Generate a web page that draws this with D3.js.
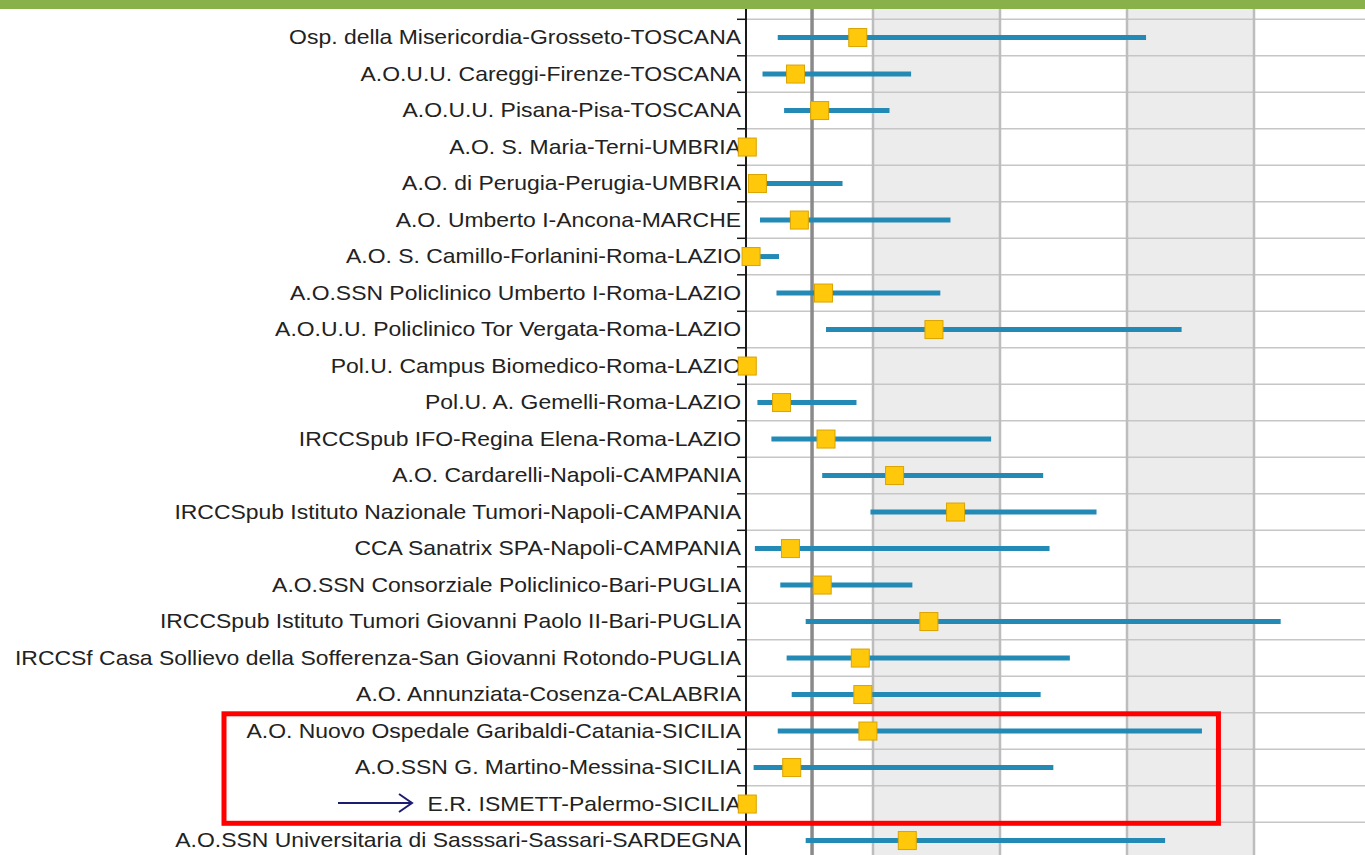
<!DOCTYPE html>
<html>
<head>
<meta charset="utf-8">
<script src="https://cdn.jsdelivr.net/npm/d3@7"></script>
<style>
  html, body { margin: 0; padding: 0; background: #fff; overflow: hidden; }
  svg { display: block; }
</style>
</head>
<body>
<svg id="chart" width="1365" height="855"></svg>
<script>
// hospitals, top to bottom
const hospitals = [
    'Osp. della Misericordia-Grosseto-TOSCANA',
    'A.O.U.U. Careggi-Firenze-TOSCANA',
    'A.O.U.U. Pisana-Pisa-TOSCANA',
    'A.O. S. Maria-Terni-UMBRIA',
    'A.O. di Perugia-Perugia-UMBRIA',
    'A.O. Umberto I-Ancona-MARCHE',
    'A.O. S. Camillo-Forlanini-Roma-LAZIO',
    'A.O.SSN Policlinico Umberto I-Roma-LAZIO',
    'A.O.U.U. Policlinico Tor Vergata-Roma-LAZIO',
    'Pol.U. Campus Biomedico-Roma-LAZIO',
    'Pol.U. A. Gemelli-Roma-LAZIO',
    'IRCCSpub IFO-Regina Elena-Roma-LAZIO',
    'A.O. Cardarelli-Napoli-CAMPANIA',
    'IRCCSpub Istituto Nazionale Tumori-Napoli-CAMPANIA',
    'CCA Sanatrix SPA-Napoli-CAMPANIA',
    'A.O.SSN Consorziale Policlinico-Bari-PUGLIA',
    'IRCCSpub Istituto Tumori Giovanni Paolo II-Bari-PUGLIA',
    'IRCCSf Casa Sollievo della Sofferenza-San Giovanni Rotondo-PUGLIA',
    'A.O. Annunziata-Cosenza-CALABRIA',
    'A.O. Nuovo Ospedale Garibaldi-Catania-SICILIA',
    'A.O.SSN G. Martino-Messina-SICILIA',
    'E.R. ISMETT-Palermo-SICILIA',
    'A.O.SSN Universitaria di Sasssari-Sassari-SARDEGNA'
];

// estimate, lower and upper limit
const estimate = [0.88, 0.39, 0.58, 0.01, 0.09, 0.42, 0.04, 0.61, 1.48, 0.01, 0.28, 0.63,
    1.17, 1.65, 0.35, 0.60, 1.44, 0.90, 0.92, 0.96, 0.36, 0.01, 1.27];
const lower = [0.25, 0.13, 0.30, 0.01, 0.09, 0.11, 0.04, 0.24, 0.63, 0.01, 0.09, 0.20,
    0.60, 0.98, 0.07, 0.27, 0.47, 0.32, 0.36, 0.25, 0.06, 0.01, 0.47];
const upper = [3.15, 1.30, 1.13, 0.01, 0.76, 1.61, 0.26, 1.53, 3.43, 0.01, 0.87, 1.93,
    2.34, 2.76, 2.39, 1.31, 4.21, 2.55, 2.32, 3.59, 2.42, 0.01, 3.30];

const gridTicks = [0, 1, 2, 3, 4, 5];
const bands = [[1, 2], [3, 4]];
const reference = 0.52;
const highlighted = ['A.O. Nuovo Ospedale Garibaldi-Catania-SICILIA',
    'A.O.SSN G. Martino-Messina-SICILIA',
    'E.R. ISMETT-Palermo-SICILIA'];
const pointed = 'E.R. ISMETT-Palermo-SICILIA';

const rows = hospitals.map((h, i) => ({
    name: h, est: estimate[i], lo: lower[i], hi: upper[i]
}));

const svg = d3.select('#chart');
const W = 1365;

const x = d3.scaleLinear()
    .domain([0, 5])
    .range([746, 1381]);

const y = d3.scaleBand()
    .domain(hospitals)
    .range([19.3, 19.3 + hospitals.length * 36.5]);

const bw = y.bandwidth();
const cy = d => y(d) + bw / 2;

// top banner
svg.append('rect')
    .attr('x', 0).attr('y', 0)
    .attr('width', W).attr('height', 9)
    .attr('fill', '#89b14a');

// shaded bands
svg.selectAll('.band')
    .data(bands).enter()
    .append('rect')
        .attr('x', d => x(d[0]))
        .attr('y', 9)
        .attr('width', d => x(d[1]) - x(d[0]))
        .attr('height', 855)
        .attr('fill', '#ececec');

// horizontal row lines
const bounds = hospitals.map(h => y(h)).concat([y(hospitals[hospitals.length - 1]) + bw]);
svg.selectAll('.hgrid')
    .data(bounds).enter()
    .append('line')
        .attr('x1', x(0)).attr('x2', W)
        .attr('y1', d => d).attr('y2', d => d)
        .attr('stroke', '#c6c6c6')
        .attr('stroke-width', 1.5);

// vertical grid
svg.selectAll('.vgrid')
    .data(gridTicks.slice(1)).enter()
    .append('line')
        .attr('x1', d => x(d)).attr('x2', d => x(d))
        .attr('y1', 9).attr('y2', 855)
        .attr('stroke', '#bdbdbd')
        .attr('stroke-width', 2.5);

// reference line
svg.append('line')
    .attr('x1', x(reference)).attr('x2', x(reference))
    .attr('y1', 9).attr('y2', 855)
    .attr('stroke', '#8a8a8a')
    .attr('stroke-width', 3.5);

// axis with labels
const axis = svg.append('g')
    .attr('transform', 'translate(' + x(0) + ',0)')
    .call(d3.axisLeft(y).tickSize(0).tickPadding(5));
axis.select('.domain').remove();
axis.append('line')
    .attr('x1', 0).attr('x2', 0)
    .attr('y1', 9).attr('y2', 855)
    .attr('stroke', '#1a1a1a')
    .attr('stroke-width', 2);
axis.selectAll('.rowtick')
    .data(bounds).enter()
    .append('line')
        .attr('x1', -9).attr('x2', 0)
        .attr('y1', d => d).attr('y2', d => d)
        .attr('stroke', '#1a1a1a')
        .attr('stroke-width', 1.5);

const labels = axis.selectAll('.tick text')
    .attr('fill', '#222')
    .style('font-family', '"Liberation Sans", Arial, sans-serif')
    .style('font-size', '21px');

// squeeze labels a little so the longest keeps the width it has in the picture
let widest = 0;
labels.each(function() { widest = Math.max(widest, this.getComputedTextLength()); });
const squeeze = 726 / widest;
labels.each(function() {
    const len = this.getComputedTextLength();
    d3.select(this)
        .attr('textLength', (len * squeeze).toFixed(1))
        .attr('lengthAdjust', 'spacingAndGlyphs');
});

// intervals
svg.selectAll('.ci')
    .data(rows.filter(d => d.hi > d.lo)).enter()
    .append('line')
        .attr('x1', d => x(d.lo)).attr('x2', d => x(d.hi))
        .attr('y1', d => cy(d.name)).attr('y2', d => cy(d.name))
        .attr('stroke', '#2389b5')
        .attr('stroke-width', 5);

// estimates
const sq = 18;
svg.selectAll('.est')
    .data(rows).enter()
    .append('rect')
        .attr('x', d => x(d.est) - sq / 2)
        .attr('y', d => cy(d.name) - sq / 2)
        .attr('width', sq).attr('height', sq)
        .attr('fill', '#ffc80a')
        .attr('stroke', '#d9a400')
        .attr('stroke-width', 1);

// highlight box
const boxTop = y(highlighted[0]);
const boxBottom = y(highlighted[highlighted.length - 1]) + bw;
svg.append('rect')
    .attr('x', 224)
    .attr('y', boxTop + 1)
    .attr('width', x(3.72) - 224)
    .attr('height', boxBottom - boxTop)
    .attr('fill', 'none')
    .attr('stroke', '#ff0000')
    .attr('stroke-width', 5);

// arrow
const ay = cy(pointed) - 1;
const arrow = svg.append('g')
    .attr('stroke', '#1c1c70')
    .attr('stroke-width', 2)
    .attr('fill', 'none');
arrow.append('line')
    .attr('x1', 338).attr('x2', 412)
    .attr('y1', ay).attr('y2', ay);
arrow.append('path')
    .attr('d', 'M' + 399 + ',' + (ay - 9) + 'L' + 412 + ',' + ay + 'L' + 399 + ',' + (ay + 9));
</script>
</body>
</html>
